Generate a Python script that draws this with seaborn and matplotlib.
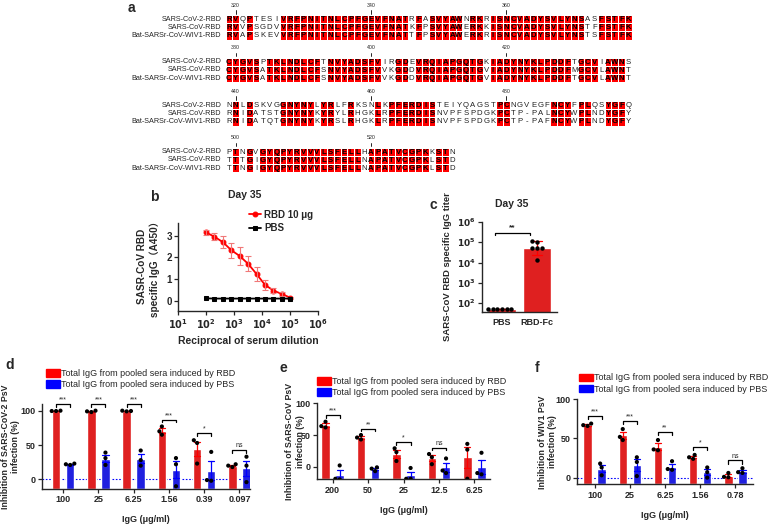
import numpy as np
import pandas as pd
import matplotlib
matplotlib.use("Agg")
import matplotlib.pyplot as plt
from matplotlib.colors import ListedColormap
from matplotlib.patches import Patch
from matplotlib.ticker import NullLocator
import seaborn as sns

W, H = 778, 524
RED = "#ff0000"
BLUE = "#0000ff"

# a: RBD alignment
names = ["SARS-CoV-2-RBD", "SARS-CoV-RBD", "Bat-SARSr-CoV-WIV1-RBD"]
seqs = [
    "RVQPTESIVRFPNITNLCPFGEVFNATRFASVYAWNRKRISNCVADYSVLYNSASFSTFK"
    "CYGVSPTKLNDLCFTNVYADSFVIRGDEVRQIAPGQTGKIADYNYKLPDDFTGCVIAWNS"
    "NNLDSKVGGNYNYLYRLFRKSNLKPFERDISTEIYQAGSTPCNGVEGFNCYFPLQSYGFQ"
    "PTNGVGYQPYRVVVLSFELLHAPATVCGPKKSTN",
    "RVVPSGDVVRFPNITNLCPFGEVFNATKFPSVYAWERKKISNCVADYSVLYNSTFFSTFK"
    "CYGVSATKLNDLCFSNVYADSFVVKGDDVRQIAPGQTGVIADYNYKLPDDFMGCVLAWNT"
    "RNIDATSTGNYNYKYRYLRHGKLRPFERDISNVPFSPDGKPCTP-PALNCYWPLNDYGFY"
    "TTTGIGYQPYRVVVLSFELLNAPATVCGPKLSTD",
    "RVAPSKEVVRFPNITNLCPFGEVFNATTFPSVYAWERKRISNCVADYSVLYNSTSFSTFK"
    "CYGVSATKLNDLCFSNVYADSFVVKGDDVRQIAPGQTGVIADYNYKLPDDFTGCVLAWNT"
    "RNIDATQTGNYNYKYRSLRHGKLRPFERDISNVPFSPDGKPCTP-PAFNCYWPLNDYGFY"
    "TTNGIGYQPYRVVVLSFELLNAPATVCGPKLSTD",
]
first_residue = 319
block_len = 60

# b: ELISA curve, day 35
dilution = [100, 200, 400, 800, 1600, 3200, 6400, 12800, 25600, 51200, 102400]
rbd_a450 = [3.15, 2.95, 2.70, 2.33, 2.06, 1.70, 1.23, 0.73, 0.47, 0.31, 0.14]
rbd_sd = [0.12, 0.15, 0.28, 0.35, 0.40, 0.35, 0.33, 0.22, 0.12, 0.07, 0.04]
pbs_a450 = [0.11, 0.10, 0.10, 0.10, 0.10, 0.10, 0.10, 0.10, 0.10, 0.10, 0.10]

# c: endpoint titers
titer_groups = ["PBS", "RBD-Fc"]
pbs_titer = [50, 50, 50, 50, 50, 50]
rbdfc_titer = [110000, 100000, 52000, 50000, 53000, 13000]

# d: SARS-CoV-2 PsV
d_conc = ["100", "25", "6.25", "1.56", "0.39", "0.097"]
d_rbd = [[100, 99.5, 99.5], [100, 99, 98], [100, 99.5, 99], [77, 70, 65], [57, 53, 23], [22, 20, 18]]
d_pbs = [[23, 22, 21], [39, 31, 21], [42, 28, 20], [31, 22, -10], [40, -1, -2], [33, 20, -4]]
d_sig = ["***", "***", "***", "***", "*", "ns"]

# e: SARS-CoV PsV
e_conc = ["200", "50", "25", "12.5", "6.25"]
e_rbd = [[71, 64, 62], [50, 46, 43], [29, 23, 9], [20, 15, 4], [36, 27, -19]]
e_pbs = [[2, -20, -19], [-1, -3, -7], [-2, -19, -19], [13, -6, -10], [22, -10, -12]]
e_sig = ["***", "**", "*", "ns", ""]

# f: WIV1 PsV
f_conc = ["100", "25", "6.25", "1.56", "0.78"]
f_rbd = [[69, 67, 66], [62, 52, 48], [48, 36, 35], [29, 26, 24], [6, 1, 0.5]]
f_pbs = [[18, 13, 3], [26, 20, 2], [21, 11, 10], [13, 7, 0], [12, 7, 6]]
f_sig = ["***", "***", "**", "*", "ns"]

legend_labels = ["Total IgG from pooled sera induced by RBD",
                 "Total IgG from pooled sera induced by PBS"]

sns.set_style("ticks")
plt.rcParams["font.family"] = ["Liberation Sans", "Noto Sans CJK SC", "DejaVu Sans"]
plt.rcParams["font.weight"] = "bold"
plt.rcParams["axes.linewidth"] = 1.0
plt.rcParams["xtick.major.width"] = 0.9
plt.rcParams["ytick.major.width"] = 0.9
plt.rcParams["xtick.major.size"] = 3
plt.rcParams["ytick.major.size"] = 3
plt.rcParams["mathtext.default"] = "bf"


def px_box(x0, y0, x1, y1):
    return [x0 / W, 1 - y1 / H, (x1 - x0) / W, (y1 - y0) / H]


def bold_ticks(ax, size):
    ax.tick_params(labelsize=size, pad=1.5)
    for lab in ax.get_xticklabels() + ax.get_yticklabels():
        lab.set_fontweight("bold")


fig = plt.figure(figsize=(W / 100, H / 100), dpi=100)

# ---- a: alignment, one heatmap per block of 60 residues
block_tops = [15, 57.5, 101, 147.5]
n_blocks = int(np.ceil(len(seqs[0]) / block_len))
for b in range(n_blocks):
    chunk = [s[b * block_len:(b + 1) * block_len] for s in seqs]
    ident = np.full((3, block_len), np.nan)
    for j in range(len(chunk[0])):
        col = [c[j] for c in chunk]
        same = col[0] != "-" and all(c == col[0] for c in col)
        ident[:, j] = 1.0 if same else 0.0
    top = block_tops[b]
    ax = fig.add_axes(px_box(225.5, top, 631.7, top + 24.6))
    sns.heatmap(ident, ax=ax, cmap=ListedColormap(["white", RED]), vmin=0, vmax=1,
                cbar=False, linewidths=0.5, linecolor="white",
                xticklabels=False, yticklabels=names)
    # residue letters on top of the cells
    for r in range(3):
        for j, ch in enumerate(chunk[r]):
            boxed = ident[r, j] == 1
            ax.text(j + 0.5, r + 0.55, ch, ha="center", va="center", fontsize=5.6,
                    fontweight="bold" if boxed else "normal",
                    color="#000000" if boxed else "#222222", zorder=5)
    ax.tick_params(axis="y", length=0, labelsize=5.2, pad=3)
    for lab in ax.get_yticklabels():
        lab.set_rotation(0)
        lab.set_fontweight("normal")
    start = first_residue + b * block_len
    for res in range(start, start + len(chunk[0])):
        if res % 20 == 0:
            c = res - start + 0.5
            ax.plot([c, c], [-0.55, -0.15], color="k", lw=0.6, clip_on=False)
            ax.text(c, -1.2, str(res), ha="center", va="center", fontsize=3.8,
                    fontweight="normal")

# ---- b: ELISA curve
ax = fig.add_axes(px_box(178, 222.6, 318, 310.5))
ax.set_xscale("log")
sns.lineplot(x=dilution, y=rbd_a450, ax=ax, color=RED, marker="o", markersize=3.5,
             markeredgecolor=RED, lw=1.3, label="RBD 10 μg")
ax.errorbar(dilution, rbd_a450, yerr=rbd_sd, fmt="none", ecolor="#f07878", capsize=2,
            elinewidth=0.8, capthick=0.8)
sns.lineplot(x=dilution, y=pbs_a450, ax=ax, color="k", marker="s", markersize=3,
             markeredgecolor="k", lw=1.3, label="PBS")
ax.set_xlim(10, 1e6)
ax.set_ylim(-0.45, 3.6)
ax.set_xticks([10, 1e2, 1e3, 1e4, 1e5, 1e6])
ax.set_xticklabels([r"$\mathbf{10^{%d}}$" % k for k in range(1, 7)])
ax.xaxis.set_minor_locator(NullLocator())
ax.set_yticks([0, 1, 2, 3])
bold_ticks(ax, 7)
ax.set_xlabel("Reciprocal of serum dilution", fontsize=7.5, fontweight="bold", labelpad=4)
ax.set_ylabel("SASR-CoV RBD\nspecific IgG（A450）", fontsize=7.2, fontweight="bold")
ax.yaxis.set_label_coords(-0.13, 0.5)
sns.despine(ax=ax)
ax.legend(loc="center left", bbox_to_anchor=(244 / W, 1 - 221.5 / H),
          bbox_transform=fig.transFigure, frameon=False, fontsize=7,
          handlelength=1.2, handletextpad=0.4, labelspacing=0.35, borderpad=0)
fig.text(245 / W, 1 - 195 / H, "Day 35", ha="center", va="center", fontsize=7.5)

# ---- c: titers
ax = fig.add_axes(px_box(482, 222, 557, 312))
ax.set_yscale("log")
titer_df = pd.DataFrame({
    "group": [titer_groups[0]] * len(pbs_titer) + [titer_groups[1]] * len(rbdfc_titer),
    "titer": pbs_titer + rbdfc_titer,
})
sns.barplot(titer_df, x="group", y="titer", order=titer_groups, ax=ax,
            palette=[RED, RED], hue="group", legend=False, errorbar="sd",
            capsize=0.3, width=0.8, err_kws={"color": RED, "linewidth": 0.9})
sns.swarmplot(titer_df, x="group", y="titer", order=titer_groups, ax=ax,
              color="k", size=3.2)
ax.set_ylim(10 ** 1.56, 1e6)
ax.set_xlim(-0.57, 1.57)
ax.set_yticks([1e2, 1e3, 1e4, 1e5, 1e6])
ax.set_yticklabels([r"$\mathbf{10^{%d}}$" % k for k in range(2, 7)])
ax.yaxis.set_minor_locator(NullLocator())
ax.set_xlabel("")
ax.set_ylabel("SARS-CoV RBD specific IgG titer", fontsize=6.8, fontweight="bold")
ax.yaxis.set_label_coords(-0.4, 0.5)
bold_ticks(ax, 6.5)
ax.tick_params(axis="x", length=0, pad=4)
sns.despine(ax=ax)
yb = 3e5
ax.plot([-0.2, -0.2, 0.8, 0.8], [yb / 1.25, yb, yb, yb / 1.25], color="k", lw=0.9)
ax.text(0.3, yb * 1.15, "**", ha="center", va="bottom", fontsize=6)
fig.text(512 / W, 1 - 204 / H, "Day 35", ha="center", va="center", fontsize=7.5)


# ---- d, e, f: inhibition bars
def inhibition_panel(box, conc, rbd, pbs, sig, ylim, xlim, ylabel, label_x,
                     zero_line, legend_xy):
    ax = fig.add_axes(px_box(*box))
    rows = []
    for c, r, p in zip(conc, rbd, pbs):
        rows += [(c, "RBD", v) for v in r]
        rows += [(c, "PBS", v) for v in p]
    df = pd.DataFrame(rows, columns=["conc", "group", "value"])
    if zero_line:
        ax.axhline(0, ls=(0, (1.5, 1.5)), color="#888888", lw=0.8, zorder=0)
    sns.barplot(df, x="conc", y="value", hue="group", hue_order=["RBD", "PBS"],
                order=conc, palette=[RED, BLUE], errorbar="se", capsize=0.35,
                width=0.8, gap=0.4, err_kws={"linewidth": 0.9}, legend=False, ax=ax)
    # Prism-style bars start at the bottom of the axis
    for patch in ax.patches:
        v = patch.get_y() + patch.get_height()
        patch.set_y(ylim[0])
        patch.set_height(v - ylim[0])
    for line in ax.lines:
        xs = np.asarray(line.get_xdata(), dtype=float)
        if xs.size == 0 or np.all(np.isnan(xs)):
            continue
        xm = np.nanmean(xs)
        line.set_color(RED if xm - round(xm) < 0 else BLUE)
    sns.swarmplot(df, x="conc", y="value", hue="group", hue_order=["RBD", "PBS"],
                  order=conc, palette=["k", "k"], dodge=True, size=3, legend=False, ax=ax)
    for i, s in enumerate(sig):
        if not s:
            continue
        top = max(rbd[i] + pbs[i]) + 10
        ax.plot([i - 0.2, i - 0.2, i + 0.2, i + 0.2], [top - 4, top, top, top - 4],
                color="k", lw=0.9, clip_on=False)
        ax.text(i, top + 1, s, ha="center", va="bottom", fontsize=5,
                fontweight="normal")
    ax.set_ylim(*ylim)
    ax.set_xlim(*xlim)
    ax.set_yticks([0, 50, 100])
    ax.set_xlabel("IgG (μg/ml)", fontsize=6.5, fontweight="bold", labelpad=8)
    ax.set_ylabel(ylabel, fontsize=6.3, fontweight="bold")
    ax.yaxis.set_label_coords(label_x, 0.5)
    bold_ticks(ax, 6.5)
    sns.despine(ax=ax)
    handles = [Patch(color=RED), Patch(color=BLUE)]
    fig.legend(handles, legend_labels, loc="center left",
               bbox_to_anchor=(legend_xy[0] / W, 1 - legend_xy[1] / H),
               frameon=False, prop={"size": 6.5, "weight": "normal"},
               handlelength=1.5, handleheight=0.9, handletextpad=0.15,
               labelspacing=0.25, borderpad=0, borderaxespad=0)
    return ax


inhibition_panel((42, 403.8, 250, 489), d_conc, d_rbd, d_pbs, d_sig, (-14, 110),
                 (-0.6, 5.3), "Inhibition of SARS-CoV-2 PsV\ninfection (%)", -0.105,
                 True, (46, 379))
inhibition_panel((317, 403.3, 490, 479.4), e_conc, e_rbd, e_pbs, e_sig, (-20, 100),
                 (-0.44, 4.44), "Inhibition of SARS-CoV PsV\ninfection (%)", -0.07,
                 False, (317, 387))
inhibition_panel((577, 399.3, 753, 484.3), f_conc, f_rbd, f_pbs, f_sig, (-8.5, 100),
                 (-0.5, 4.5), "Inhibition of WIV1 PsV\ninfection (%)", -0.114,
                 True, (579, 383.5))

# panel letters
for letter, x, y in [("a", 128, 8), ("b", 150, 197), ("c", 430, 205),
                     ("d", 5, 365), ("e", 280, 368), ("f", 535, 368)]:
    fig.text(x / W, 1 - y / H, letter, fontsize=10, fontweight="bold",
             ha="left", va="center")

fig.savefig("out.png", dpi=100)
